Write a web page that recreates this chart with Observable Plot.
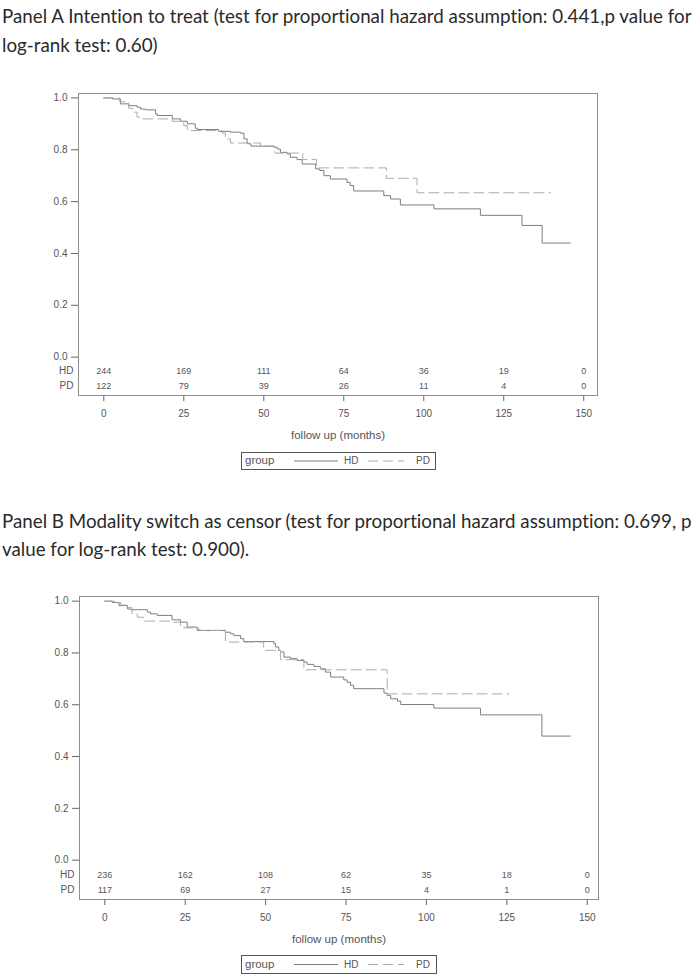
<!DOCTYPE html>
<html>
<head>
<meta charset="utf-8">
<script src="https://cdn.jsdelivr.net/npm/d3@7"></script>
<script src="https://cdn.jsdelivr.net/npm/@observablehq/plot@0.6"></script>
<style>
  html, body { margin: 0; padding: 0; background: #fff; }
  #page { position: relative; width: 697px; height: 975px; overflow: hidden; background: #fff; }
  .title { position: absolute; left: 2px; white-space: nowrap; font-family: Lato, "Open Sans", sans-serif; font-size: 17px; color: #2a2a2a; line-height: 22px; font-variant-ligatures: none; font-feature-settings: "liga" 0, "clig" 0; }
  .chart { position: absolute; left: 0; }
  .legend { position: absolute; border: 1px solid #555; box-sizing: border-box; font-family: "Liberation Sans", Arial, sans-serif; color: #555; }
  .legend span { position: absolute; white-space: nowrap; }
  .legend svg { position: absolute; left: 0; top: 0; }
</style>
</head>
<body>
<div id="page"></div>
<script>
// ---------------- data ----------------
const months = [0, 25, 50, 75, 100, 125, 150];
const yTicks = [0, 0.2, 0.4, 0.6, 0.8, 1.0];
const groups = ["HD", "PD"];
const axisLabel = "follow up (months)";
const legendTitle = "group";

const titleA = ["Panel A Intention to treat (test for proportional hazard assumption: 0.441,p value for",
                "log-rank test: 0.60)"];
const titleB = ["Panel B Modality switch as censor (test for proportional hazard assumption: 0.699, p",
                "value for log-rank test: 0.900)."];

// Panel A, HD (solid): event times (months) and survival
const hdA_t = [0, 2.6, 5.2, 7.8, 10.4, 11.5, 13, 16.2, 16.7, 21.4, 24, 26.1, 28.6, 29.2, 35.9, 39.6, 42.7, 43.8, 44.8, 46, 53.1, 54.2, 55.2, 57.3, 58.3, 60.4, 62, 66.2, 67.5, 68.8, 70.8, 76, 77, 78.1, 87.5, 89.6, 92.7, 103.2, 117.7, 130.7, 137, 145.8];
const hdA_s = [1.0, 0.996, 0.977, 0.970, 0.964, 0.957, 0.954, 0.938, 0.932, 0.919, 0.910, 0.900, 0.883, 0.878, 0.871, 0.868, 0.864, 0.842, 0.823, 0.814, 0.810, 0.803, 0.790, 0.784, 0.771, 0.762, 0.745, 0.726, 0.720, 0.700, 0.687, 0.674, 0.662, 0.641, 0.623, 0.610, 0.587, 0.572, 0.547, 0.508, 0.440, 0.440];
// Panel A, PD (dashed)
const pdA_t = [0, 5, 7.8, 9, 10.4, 12, 21.4, 25, 26.1, 37, 38, 39.6, 49, 53.5, 62.2, 66.5, 88.3, 97.9, 139.6];
const pdA_s = [1.0, 0.985, 0.960, 0.945, 0.926, 0.919, 0.910, 0.893, 0.874, 0.864, 0.842, 0.826, 0.814, 0.787, 0.762, 0.730, 0.690, 0.634, 0.634];

// Panel B, HD (solid)
const hdB_t = [0, 2.3, 4.4, 7.0, 8.0, 13.2, 14.2, 16.3, 20.9, 23.5, 25.6, 28.7, 37.5, 39.1, 40.1, 42.2, 43.2, 52.6, 53.1, 54.1, 54.6, 55.7, 57.7, 59.8, 61.9, 62.9, 65, 67, 68.6, 70.2, 74.3, 75.3, 76.4, 77.4, 86.8, 87.8, 88.9, 91, 92, 102.3, 116.8, 135.9, 144.8];
const hdB_s = [1.0, 0.995, 0.983, 0.970, 0.967, 0.958, 0.951, 0.945, 0.928, 0.919, 0.900, 0.887, 0.880, 0.874, 0.867, 0.855, 0.844, 0.836, 0.823, 0.810, 0.804, 0.784, 0.778, 0.771, 0.765, 0.756, 0.748, 0.739, 0.726, 0.707, 0.696, 0.687, 0.675, 0.662, 0.645, 0.636, 0.623, 0.614, 0.601, 0.587, 0.561, 0.479, 0.479];
// Panel B, PD (dashed)
const pdB_t = [0, 3, 5, 7.0, 8.5, 10.1, 12.2, 20.9, 23.5, 24.6, 29.2, 29.8, 37.5, 49.4, 54.6, 61.9, 87.8, 125.6];
const pdB_s = [1.0, 0.995, 0.985, 0.975, 0.951, 0.938, 0.923, 0.919, 0.906, 0.897, 0.889, 0.887, 0.842, 0.810, 0.774, 0.735, 0.642, 0.642];

// numbers at risk
const riskA_HD = [244, 169, 111, 64, 36, 19, 0];
const riskA_PD = [122, 79, 39, 26, 11, 4, 0];
const riskB_HD = [236, 162, 108, 62, 35, 18, 0];
const riskB_PD = [117, 69, 27, 15, 4, 1, 0];

// ---------------- drawing ----------------
const page = document.getElementById("page");
const FONT = "'Liberation Sans', Arial, sans-serif";
const HD_COLOR = "#7e7e7e";
const PD_COLOR = "#ababab";
const PD_DASH = "10,5";

function toRows(ts, ss) { return ts.map((t, i) => ({t, s: ss[i]})); }

function panel(cfg) {
  const hd = toRows(cfg.hdT, cfg.hdS);
  const pd = toRows(cfg.pdT, cfg.pdS);
  const rHD = months.map((m, i) => ({t: m, n: cfg.riskHD[i]}));
  const rPD = months.map((m, i) => ({t: m, n: cfg.riskPD[i]}));
  return Plot.plot({
    width: 697,
    height: cfg.height,
    marginTop: cfg.marginTop,
    marginLeft: cfg.marginLeft,
    marginRight: cfg.marginRight,
    marginBottom: cfg.height - cfg.marginTop - cfg.frameH,
    x: {domain: cfg.xDomain},
    y: {domain: cfg.yDomain},
    style: {fontFamily: FONT, color: "#555", background: "white", overflow: "visible"},
    marks: [
      Plot.line(hd, {x: "t", y: "s", curve: "step-after", stroke: HD_COLOR, strokeWidth: 1}),
      Plot.line(pd, {x: "t", y: "s", curve: "step-after", stroke: PD_COLOR, strokeWidth: 1, strokeDasharray: PD_DASH}),
      Plot.frame({stroke: "#8e8e8e"}),
      Plot.axisY({ticks: yTicks, tickFormat: d3.format(".1f"), tickSize: 7, tickPadding: 4, fontSize: 10, label: null, stroke: "#666"}),
      Plot.axisX({ticks: months, tickFormat: d3.format("d"), tickSize: 6, tickPadding: 8, fontSize: 10, label: null, stroke: "#666"}),
      Plot.text(rHD, {x: "t", text: "n", frameAnchor: "bottom", dy: -22, fontSize: 9}),
      Plot.text(rPD, {x: "t", text: "n", frameAnchor: "bottom", dy: -7, fontSize: 9}),
      Plot.text([groups[0]], {text: d => d, frameAnchor: "bottom-left", textAnchor: "end", dx: -5, dy: -22, fontSize: 10}),
      Plot.text([groups[1]], {text: d => d, frameAnchor: "bottom-left", textAnchor: "end", dx: -5, dy: -7, fontSize: 10}),
      Plot.text([axisLabel], {text: d => d, frameAnchor: "bottom", dy: 43, fontSize: 11.5})
    ]
  });
}

function addTitle(lines, tops, targetWidth) {
  const divs = lines.map((txt, i) => {
    const d = document.createElement("div");
    d.className = "title";
    d.style.top = tops[i] + "px";
    d.textContent = txt;
    page.appendChild(d);
    return d;
  });
  // fit the first (full) line to the width it spans in the reference
  const w = divs[0].getBoundingClientRect().width;
  if (w > 0) {
    const fs = 17 * targetWidth / w;
    divs.forEach(d => { d.style.fontSize = fs.toFixed(2) + "px"; });
  }
}

function addChart(svg, top) {
  svg.classList.add("chart");
  svg.style.position = "absolute";
  svg.style.top = top + "px";
  svg.style.left = "0px";
  page.appendChild(svg);
}

function addLegend(left, top, w, h) {
  const box = document.createElement("div");
  box.className = "legend";
  box.style.left = left + "px";
  box.style.top = top + "px";
  box.style.width = w + "px";
  box.style.height = h + "px";
  const mid = h / 2 - 1;
  box.innerHTML =
    `<svg width="${w}" height="${h}">` +
    `<line x1="52" x2="96" y1="${mid}" y2="${mid}" stroke="${HD_COLOR}" stroke-width="1"/>` +
    `<line x1="126" x2="162" y1="${mid}" y2="${mid}" stroke="${PD_COLOR}" stroke-width="1" stroke-dasharray="${PD_DASH}"/>` +
    `</svg>` +
    `<span style="left:3px; top:${h/2 - 8}px; font-size:11.5px;">${legendTitle}</span>` +
    `<span style="left:102px; top:${h/2 - 7}px; font-size:10px;">${groups[0]}</span>` +
    `<span style="left:174px; top:${h/2 - 7}px; font-size:10px;">${groups[1]}</span>`;
  page.appendChild(box);
}

// Panel A
addTitle(titleA, [5, 34], 690);
addChart(panel({
  hdT: hdA_t, hdS: hdA_s, pdT: pdA_t, pdS: pdA_s,
  riskHD: riskA_HD, riskPD: riskA_PD,
  height: 410, marginTop: 23, frameH: 302,
  marginLeft: 78, marginRight: 100,
  xDomain: [-7.9, 154.3], yDomain: [-0.148, 1.017]
}), 70);
addLegend(241, 452, 195, 18);

// Panel B
addTitle(titleB, [510, 538], 690);
addChart(panel({
  hdT: hdB_t, hdS: hdB_s, pdT: pdB_t, pdS: pdB_s,
  riskHD: riskB_HD, riskPD: riskB_PD,
  height: 400, marginTop: 23, frameH: 303,
  marginLeft: 79, marginRight: 99,
  xDomain: [-7.87, 153.5], yDomain: [-0.152, 1.018]
}), 573);
addLegend(241, 955, 196, 19);
</script>
</body>
</html>
